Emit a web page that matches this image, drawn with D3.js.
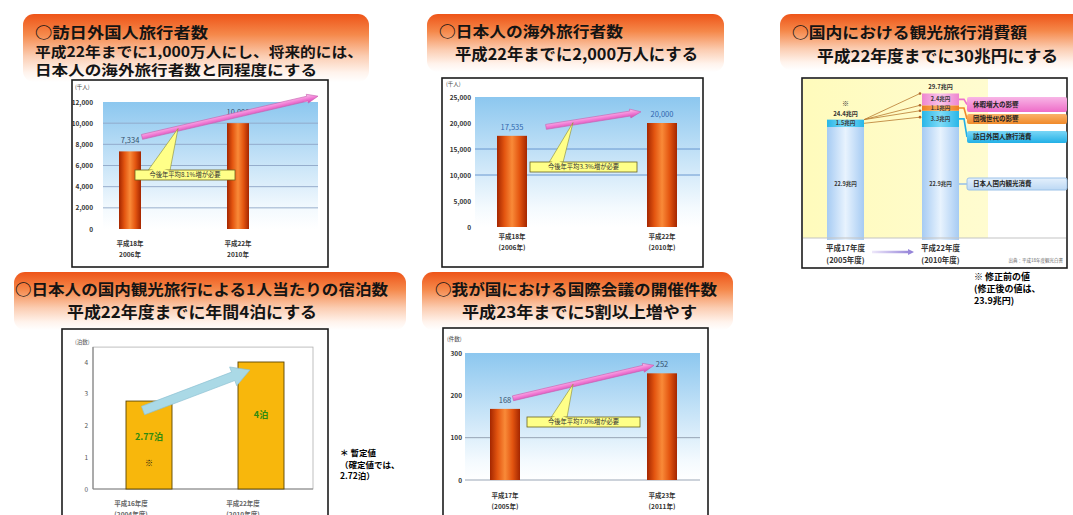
<!DOCTYPE html>
<html><head><meta charset="utf-8">
<script src="https://cdn.jsdelivr.net/npm/d3@7"></script>
<style>body{margin:0;background:#fff}svg{display:block}text{font-family:"Noto Sans CJK JP","Noto Sans",sans-serif}</style>
</head><body><svg id="c" width="1073" height="515"></svg>
<script>
// ---------- data ----------
const inboundYears = ["平成18年\n2006年", "平成22年\n2010年"];
const inboundValues = [7334, 10000];
const inboundTicks = [0, 2000, 4000, 6000, 8000, 10000, 12000];

const outboundYears = ["平成18年\n(2006年)", "平成22年\n(2010年)"];
const outboundValues = [17535, 20000];
const outboundTicks = [0, 5000, 10000, 15000, 20000, 25000];

const spendYears = ["平成17年度\n(2005年度)", "平成22年度\n(2010年度)"];
const spendSeries = ["日本人国内観光消費", "訪日外国人旅行消費", "団塊世代の影響", "休暇増大の影響"];
const spendValues = [[22.9, 1.5, 0, 0], [22.9, 3.3, 1.1, 2.4]];
const spendTotals = [24.4, 29.7];

const nightsYears = ["平成16年度\n(2004年度)", "平成22年度\n(2010年度)"];
const nightsValues = [2.77, 4];
const nightsLabels = ["2.77泊", "4泊"];
const nightsTicks = [0, 1, 2, 3, 4];

const confYears = ["平成17年\n(2005年)", "平成23年\n(2011年)"];
const confValues = [168, 252];
const confTicks = [0, 100, 200, 300];

// ---------- setup ----------
const FONT = '"Noto Sans CJK JP","Noto Sans",sans-serif';
const svg = d3.select("#c");
const defs = svg.append("defs");
function grad(id, dir, stops) {
  const g = defs.append("linearGradient").attr("id", id)
    .attr("x1", 0).attr("y1", 0).attr("x2", dir === "h" ? 1 : 0).attr("y2", dir === "h" ? 0 : 1);
  stops.forEach(([o, c, op]) => g.append("stop").attr("offset", o).attr("stop-color", c).attr("stop-opacity", op == null ? 1 : op));
}
grad("hdr", "v", [[0, "#EE5418"], [0.3, "#F5884A"], [0.62, "#FBCDB2"], [0.86, "#FFF3EC"], [1, "#FFFFFF"]]);
grad("sky", "v", [[0, "#8CC7EF"], [0.45, "#C4E2F7"], [0.85, "#F4FAFE"], [1, "#FFFFFF"]]);
grad("bar", "h", [[0, "#A42600"], [0.25, "#E35510"], [0.5, "#F98A38"], [0.75, "#E35510"], [1, "#A42600"]]);
grad("pinkArrow", "v", [[0, "#FCC8EE"], [0.5, "#F27ED6"], [1, "#CF48B2"]]);
grad("ltblue", "h", [[0, "#A6CBF3"], [0.5, "#E8F3FE"], [1, "#A6CBF3"]]);
grad("cyanSeg", "h", [[0, "#28B6E8"], [0.5, "#7EDBF7"], [1, "#28B6E8"]]);
grad("orangeSeg", "h", [[0, "#EE7F22"], [0.5, "#F9AE62"], [1, "#EE7F22"]]);
grad("pinkSeg", "h", [[0, "#EE86CF"], [0.5, "#F9C4EA"], [1, "#EE86CF"]]);
grad("pinkTag", "v", [[0, "#F8B6E6"], [1, "#EE6CC8"]]);
grad("orangeTag", "v", [[0, "#FAB26A"], [1, "#F08A2A"]]);
grad("cyanTag", "v", [[0, "#7AD6F6"], [1, "#22B0E6"]]);
grad("ltTag", "v", [[0, "#E4F0FC"], [1, "#BCD8F4"]]);
grad("purpleArrow", "h", [[0, "#EEE8FA"], [1, "#8E7CD6"]]);
grad("yellowBg", "h", [[0, "#FFFBBC"], [1, "#FFFCD0"]]);

function header(x, y, w, h, lines) {
  svg.append("rect").attr("x", x).attr("y", y).attr("width", w).attr("height", h).attr("rx", 11).attr("fill", "url(#hdr)");
  const t = svg.append("text").attr("font-weight", "bold").attr("fill", "#141414");
  lines.forEach(([s, tx, ty, tw, fs]) => t.append("tspan").attr("x", tx).attr("y", ty)
    .attr("font-size", fs).attr("textLength", tw).attr("lengthAdjust", "spacingAndGlyphs").text(s));
}
function frame(x, y, w, h) {
  svg.append("rect").attr("x", x).attr("y", y).attr("width", w).attr("height", h)
    .attr("fill", "#fff").attr("stroke", "#1c1c1c").attr("stroke-width", 1.6);
}
function blockArrow(g, x1, y1, x2, y2, sw, hw, hl, fill, stroke) {
  const L = Math.hypot(x2 - x1, y2 - y1), a = Math.atan2(y2 - y1, x2 - x1) * 180 / Math.PI;
  const pts = [[0, -sw / 2], [L - hl, -sw / 2], [L - hl, -hw / 2], [L, 0], [L - hl, hw / 2], [L - hl, sw / 2], [0, sw / 2]];
  g.append("polygon").attr("points", pts.map(p => p.join(",")).join(" "))
    .attr("transform", `translate(${x1},${y1}) rotate(${a})`)
    .attr("fill", fill).attr("stroke", stroke).attr("stroke-width", 0.6);
}
function twoLine(g, x, yb, gap, label, size, color) {
  const t = g.append("text").attr("text-anchor", "middle").attr("font-size", size)
    .attr("font-weight", "bold").attr("fill", color);
  label.split("\n").forEach((s, i) => t.append("tspan").attr("x", x).attr("y", yb + i * gap).text(s));
}

// ---------- orange bar panels ----------
function barPanel(o) {
  frame(...o.frame);
  const g = svg.append("g");
  const y = d3.scaleLinear().domain([0, o.max]).range([o.base, o.top]);
  g.append("rect").attr("x", o.px0).attr("y", y(o.max)).attr("width", o.px1 - o.px0)
    .attr("height", o.base - y(o.max)).attr("fill", "url(#sky)");
  g.selectAll("line.grid").data(o.grid).join("line").attr("class", "grid")
    .attr("x1", o.px0).attr("x2", o.px1).attr("y1", d => y(d)).attr("y2", d => y(d))
    .attr("stroke", o.gridColor).attr("stroke-width", 0.9);
  const ax = g.append("g").attr("transform", `translate(${o.axisX},0)`)
    .call(d3.axisLeft(y).tickValues(o.ticks).tickSize(0).tickPadding(0).tickFormat(d3.format(",")));
  ax.select(".domain").remove();
  ax.selectAll("text").attr("font-size", 6.5).attr("font-weight", "bold").attr("fill", "#333").attr("font-family", FONT);
  g.append("text").attr("x", o.unit[0]).attr("y", o.unit[1]).attr("font-size", 5.5).attr("fill", "#444").text(o.unitText);
  const bw = o.bw;
  const x = d3.scaleBand().domain(o.cats).range([o.bx0, o.bx1]).paddingInner(1 - bw / (o.bx1 - o.bx0 - bw));
  g.selectAll("rect.bar").data(o.values).join("rect").attr("class", "bar")
    .attr("x", (d, i) => x(o.cats[i])).attr("y", d => y(d)).attr("width", x.bandwidth())
    .attr("height", d => o.base - y(d)).attr("fill", "url(#bar)");
  g.selectAll("text.val").data(o.values).join("text").attr("class", "val")
    .attr("x", (d, i) => x(o.cats[i]) + x.bandwidth() / 2)
    .attr("y", d => y(d) - o.valOff).attr("text-anchor", "middle")
    .attr("font-size", 7.5).attr("fill", o.valColor).text(d => d3.format(",")(d));
  o.cats.forEach(c => twoLine(g, x(c) + x.bandwidth() / 2, o.xlab[0], o.xlab[1], c, 6.5, "#333"));
  // growth arrow
  const [ax1, av1, ax2, av2] = o.arrow;
  blockArrow(g, ax1, y(av1), ax2, y(av2), 5, 9, 11, "url(#pinkArrow)", "#C860B0");
  // callout
  const slope = (y(av2) - y(av1)) / (ax2 - ax1);
  const apexY = y(av1) + (o.apexX - ax1) * slope;
  const [bx, by, bwid, bh] = o.box;
  g.append("polygon").attr("points", `${o.apexX},${apexY} ${o.baseX[0]},${by + 0.5} ${o.baseX[1]},${by + 0.5}`)
    .attr("fill", "#FFFF88").attr("stroke", "#8A8A30").attr("stroke-width", 0.6);
  g.append("rect").attr("x", bx).attr("y", by).attr("width", bwid).attr("height", bh)
    .attr("fill", "#FFFF88").attr("stroke", "#6A6420").attr("stroke-width", 0.8);
  g.append("polygon").attr("points", `${o.baseX[0] + 0.6},${by + 1} ${o.baseX[1] - 0.6},${by + 1} ${(o.baseX[0] + o.baseX[1]) / 2},${by - 3}`)
    .attr("fill", "#FFFF88");
  g.append("text").attr("x", bx + bwid / 2).attr("y", by + bh / 2 + 2.3).attr("text-anchor", "middle")
    .attr("font-size", 6.3).attr("fill", "#333").text(o.boxText);
}

// Panel 1 : inbound visitors
header(23, 14, 346, 68, [
  ["○訪日外国人旅行者数", 35, 38, 173, 15],
  ["平成22年までに1,000万人にし、将来的には、", 35, 57, 328, 14],
  ["日本人の海外旅行者数と同程度にする", 35, 74.5, 282, 14]]);
barPanel({
  frame: [72, 80, 256, 187], max: 12000, top: 102, base: 229, px0: 103, px1: 318,
  ticks: inboundTicks, grid: [2000, 4000, 6000, 8000, 10000], gridColor: "#8EA6C6",
  axisX: 93, unit: [75, 89], unitText: "(千人)",
  cats: inboundYears, values: inboundValues, bx0: 119, bx1: 249, bw: 22,
  valOff: 8, valColor: "#34506E", xlab: [246, 11],
  arrow: [142, 8700, 318, 12550], apexX: 178, baseX: [148, 170],
  box: [135, 170, 100, 10], boxText: "今後年平均8.1%増が必要"
});

// Panel 2 : outbound travellers
header(427, 14, 297, 58, [
  ["○日本人の海外旅行者数", 439, 37, 184, 15],
  ["平成22年までに2,000万人にする", 455, 60, 243, 16]]);
barPanel({
  frame: [442, 78, 261, 189], max: 25000, top: 97, base: 227, px0: 475, px1: 700,
  ticks: outboundTicks, grid: [10000, 15000], gridColor: "#5E8FCB",
  axisX: 471, unit: [446, 86], unitText: "(千人)",
  cats: outboundYears, values: outboundValues, bx0: 497, bx1: 677, bw: 30,
  valOff: 6, valColor: "#2F66AE", xlab: [239, 11],
  arrow: [546, 19250, 641, 22150], apexX: 573, baseX: [549, 563],
  box: [530, 162, 107, 10], boxText: "今後年平均3.3%増が必要"
});

// Panel 5 : international conferences
header(422, 272, 311, 58, [
  ["○我が国における国際会議の開催件数", 435, 295, 282, 15],
  ["平成23年までに5割以上増やす", 462, 318, 235, 16]]);
barPanel({
  frame: [443, 328, 265, 200], max: 300, top: 353, base: 480, px0: 465, px1: 700,
  ticks: confTicks, grid: [0, 100], gridColor: "#8E9CAE",
  axisX: 462, unit: [447, 341], unitText: "(件数)",
  cats: confYears, values: confValues, bx0: 490, bx1: 677, bw: 30,
  valOff: 6, valColor: "#34506E", xlab: [498, 10.5],
  arrow: [513, 193, 654, 271], apexX: 573, baseX: [551, 567],
  box: [527, 417, 113, 10], boxText: "今後年平均7.0%増が必要"
});

// ---------- Panel 3 : tourism consumption ----------
header(780, 14, 305, 56, [
  ["○国内における観光旅行消費額", 792, 38, 235, 15],
  ["平成22年度までに30兆円にする", 817, 62, 241, 16]]);
frame(802, 78, 265, 190);
(function () {
  const g = svg.append("g");
  g.append("rect").attr("x", 803).attr("y", 79).attr("width", 185).attr("height", 159).attr("fill", "url(#yellowBg)");
  const y = d3.scaleLinear().domain([0, 30]).range([240, 92]);
  const bw = 37;
  const x = d3.scaleBand().domain(spendYears).range([827, 959]).paddingInner(1 - bw / (959 - 827 - bw));
  const fills = ["url(#ltblue)", "url(#cyanSeg)", "url(#orangeSeg)", "url(#pinkSeg)"];
  const layers = d3.stack().keys(d3.range(spendSeries.length))(spendValues);
  layers.forEach((layer, li) => {
    layer.forEach((d, j) => {
      const v = d[1] - d[0];
      if (v <= 0) return;
      g.append("rect").attr("x", x(spendYears[j])).attr("y", y(d[1])).attr("width", x.bandwidth())
        .attr("height", y(d[0]) - y(d[1])).attr("fill", fills[li]);
      g.append("text").attr("x", x(spendYears[j]) + x.bandwidth() / 2)
        .attr("y", (y(d[0]) + y(d[1])) / 2 + 2).attr("text-anchor", "middle")
        .attr("font-size", 5.5).attr("font-weight", "bold").attr("fill", "#3a3a3a").text(d3.format(".1f")(v) + "兆円");
    });
  });
  g.append("line").attr("x1", 803).attr("x2", 1066).attr("y1", 238).attr("y2", 238).attr("stroke", "#C4C4C4").attr("stroke-width", 1.2);
  spendTotals.forEach((t, j) => g.append("text").attr("x", x(spendYears[j]) + x.bandwidth() / 2).attr("y", y(t) - 4)
    .attr("text-anchor", "middle").attr("font-size", 6).attr("font-weight", "bold").attr("fill", "#333").text(d3.format(".1f")(t) + "兆円"));
  g.append("text").attr("x", x(spendYears[0]) + x.bandwidth() / 2).attr("y", y(spendTotals[0]) - 14)
    .attr("text-anchor", "middle").attr("font-size", 7).attr("font-weight", "bold").attr("fill", "#333").text("※");
  // connectors
  const r0 = x(spendYears[0]) + bw, l1 = x(spendYears[1]);
  const tops1 = layers.map(l => l[1][1]);
  const conn = [[spendTotals[0], tops1[3]], [spendTotals[0], tops1[2]], [spendTotals[0], tops1[1]],
                [(layers[1][0][0] + layers[1][0][1]) / 2, (layers[1][1][0] + layers[1][0][0]) / 2 + 2]];
  conn.forEach(([a, b]) => {
    g.append("line").attr("x1", r0).attr("y1", y(a)).attr("x2", l1 - 2).attr("y2", y(b)).attr("stroke", "#B77A2E").attr("stroke-width", 0.8);
    g.append("circle").attr("cx", l1 - 2).attr("cy", y(b)).attr("r", 1.3).attr("fill", "#B0642A");
  });
  // tags
  const tagFill = ["url(#ltTag)", "url(#cyanTag)", "url(#orangeTag)", "url(#pinkTag)"];
  const tagLine = ["#9CC2E8", "#22B0E6", "#F08A2A", "#EE70CC"];
  const tagY = [178, 131, 114, 97], tagH = [12, 12, 10, 15];
  const r1 = x(spendYears[1]) + bw;
  spendSeries.forEach((s, i) => {
    const seg = layers[i][1], mid = (y(seg[0]) + y(seg[1])) / 2;
    const cy = tagY[i] + tagH[i] / 2;
    g.append("path").attr("d", `M${r1},${i === 0 ? cy : mid} L${r1 + 5},${i === 0 ? cy : mid} L${r1 + 8},${cy}`)
      .attr("fill", "none").attr("stroke", tagLine[i]).attr("stroke-width", 1.6);
    g.append("rect").attr("x", 967).attr("y", tagY[i]).attr("width", 100).attr("height", tagH[i])
      .attr("rx", 2).attr("fill", tagFill[i]).attr("stroke", i === 0 ? "#9CC2E8" : "none");
    g.append("text").attr("x", 973).attr("y", cy + 2.4).attr("font-size", 6.5).attr("font-weight", "bold").attr("fill", "#222").text(s);
  });
  spendYears.forEach(c => twoLine(g, x(c) + x.bandwidth() / 2, 251, 11.5, c, 7.5, "#333"));
  blockArrow(g, 872, 252, 914, 252, 2.4, 6, 6, "url(#purpleArrow)", "none");
  g.append("text").attr("x", 1063).attr("y", 262).attr("text-anchor", "end").attr("font-size", 4.5).attr("fill", "#666").text("出典：平成18年度観光白書");
})();
[["※ 修正前の値", 280], ["(修正後の値は、", 292], ["23.9兆円)", 304]].forEach(([t, yy]) =>
  svg.append("text").attr("x", 974).attr("y", yy).attr("font-size", 9).attr("font-weight", "bold").attr("fill", "#000").text(t));

// ---------- Panel 4 : overnight stays ----------
header(14, 272, 392, 58, [
  ["○日本人の国内観光旅行による1人当たりの宿泊数", 15, 295, 373, 15],
  ["平成22年度までに年間4泊にする", 67, 318, 250, 16]]);
frame(62, 329, 266, 200);
(function () {
  const g = svg.append("g");
  const y = d3.scaleLinear().domain([0, 4]).range([489, 362]);
  const top = y(4.47);
  g.append("rect").attr("x", 93).attr("y", top).attr("width", 220).attr("height", 489 - top)
    .attr("fill", "#fff").attr("stroke", "#B0B0B0").attr("stroke-width", 0.8);
  g.append("line").attr("x1", 93).attr("x2", 93).attr("y1", top).attr("y2", 489).attr("stroke", "#777").attr("stroke-width", 1);
  g.append("line").attr("x1", 93).attr("x2", 313).attr("y1", 489).attr("y2", 489).attr("stroke", "#888").attr("stroke-width", 1);
  const ax = g.append("g").attr("transform", "translate(88,0)")
    .call(d3.axisLeft(y).tickValues(nightsTicks).tickSize(0).tickPadding(0).tickFormat(d3.format("d")));
  ax.select(".domain").remove();
  ax.selectAll("text").attr("font-size", 6.5).attr("fill", "#555").attr("font-family", FONT);
  g.append("text").attr("x", 75).attr("y", 344).attr("font-size", 5.5).attr("fill", "#555").text("(泊数)");
  const bw = 46;
  const x = d3.scaleBand().domain(nightsYears).range([126, 284]).paddingInner(1 - bw / (284 - 126 - bw));
  g.selectAll("rect.b").data(nightsValues).join("rect").attr("class", "b")
    .attr("x", (d, i) => x(nightsYears[i])).attr("y", d => y(d)).attr("width", x.bandwidth())
    .attr("height", d => 489 - y(d)).attr("fill", "#F8B70C").attr("stroke", "#5C4600").attr("stroke-width", 0.9);
  blockArrow(g, x(nightsYears[0]) + 17, y(2.47), x(nightsYears[1]) + 12, y(3.75), 9, 20, 18, "#AAD9E6", "#8BBFD2");
  g.selectAll("text.v").data(nightsValues).join("text").attr("class", "v")
    .attr("x", (d, i) => x(nightsYears[i]) + bw / 2).attr("y", (d, i) => i === 0 ? y(1.55) : y(2.25))
    .attr("text-anchor", "middle").attr("font-size", 9).attr("font-weight", "bold")
    .attr("fill", "#2F8A10").text((d, i) => nightsLabels[i]);
  g.append("text").attr("x", x(nightsYears[0]) + bw / 2).attr("y", y(0.72)).attr("text-anchor", "middle")
    .attr("font-size", 8).attr("font-weight", "bold").attr("fill", "#111").text("※");
  nightsYears.forEach(c => twoLine(g, x(c) + bw / 2 - 18, 506, 11, c, 6.5, "#666"));
})();
[["＊ 暫定値", 456], ["（確定値では、", 468], ["2.72泊）", 479]].forEach(([t, yy]) =>
  svg.append("text").attr("x", 340).attr("y", yy).attr("font-size", 8.5).attr("font-weight", "bold").attr("fill", "#000").text(t));
</script></body></html>
